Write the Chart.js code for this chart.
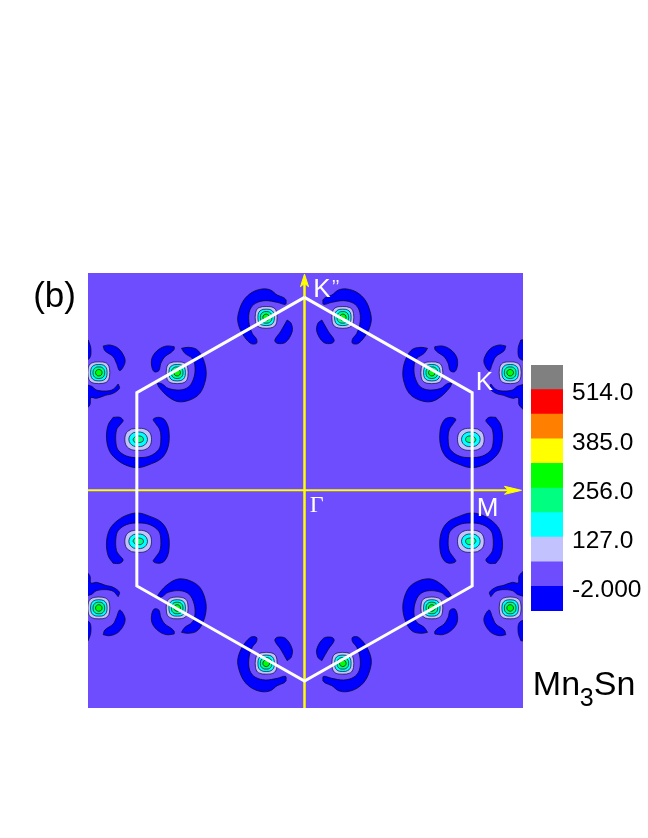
<!DOCTYPE html>
<html>
<head>
<meta charset="utf-8">
<style>
html,body{margin:0;padding:0;background:#fff;width:648px;height:838px;overflow:hidden}
canvas{position:absolute;display:block}
#map{left:0;top:0}
#bar{left:531px;top:355px}
</style>
<script src="https://cdn.jsdelivr.net/npm/chart.js@4"></script>
</head>
<body>
<canvas id="map" width="648" height="838"></canvas>
<canvas id="bar" width="117" height="266"></canvas>
<script>
// ---- colour-scale data ----
const levelEdges = [-66.5,-2,62.5,127,191.5,256,320.5,385,449.5,514,578.5];
const levelColours = ['#0000ff','#6e4dff','#c2c2ff','#00ffff','#00ff80','#00ff00','#ffff00','#ff8000','#ff0000','#808080'];
const tickValues = [-2,127,256,385,514];
const tickLabels = ['-2.000','127.0','256.0','385.0','514.0'];

// ---- map data: k-plane units, origin at Gamma, upper-left quadrant; others are mirror images ----
const siteA = [-115,519];
const siteB = [-382,353];
const siteC = [-617,353];
const siteD = [-499,153];

const blueA1 = [[60,52],[53,59],[33,67],[13,82],[-12,85],[-42,75],[-67,52],[-82,17],[-85,-13],[-72,-48],[-47,-78],[-29,-78],[-29,-65],[-42,-48],[-52,-13],[-49,22],[-32,42],[-2,50],[33,45],[58,39]];
const blueA2 = [[63,-8],[75,-18],[78,-43],[58,-75],[33,-78],[26,-68],[43,-43]];
const blueB1 = [[13,73],[33,76],[58,70],[75,48],[86,13],[85,-22],[68,-62],[38,-82],[3,-87],[-27,-72],[-52,-47],[-59,-32],[-45,-34],[-27,-47],[8,-52],[35,-42],[51,-12],[53,23],[45,43],[23,58]];
const blueB2 = [[-9,78],[-32,80],[-55,70],[-74,48],[-77,23],[-69,3],[-55,6],[-49,28],[-37,48],[-19,60],[-9,70]];
const blueC1 = [[13,80],[33,83],[58,73],[76,48],[78,28],[63,6],[53,28],[43,48],[18,66]];
const blueC2 = [[58,-34],[62,-47],[43,-62],[20,-68],[-7,-77],[-24,-75],[-27,-97],[-47,-112],[-57,-37],[-24,-40],[-7,-52],[23,-55],[43,-50]];
const blueC3 = [[-32,98],[-24,73],[-28,43],[-52,38],[-52,98]];
const blueD1 = [[-75,66],[-55,66],[-45,56],[-55,43],[-65,28],[-67,-7],[-60,-32],[-35,-50],[0,-55],[35,-50],[62,-30],[68,-2],[65,28],[52,48],[45,60],[62,66],[80,58],[92,28],[90,-22],[70,-57],[30,-77],[0,-85],[-30,-80],[-60,-64],[-85,-37],[-95,3],[-90,43]];

const ringLavender = [[-12,32],[12,32],[26,26],[32,12],[32,-12],[26,-26],[12,-32],[-12,-32],[-26,-26],[-32,-12],[-32,12],[-26,26]];
const ringCyan = [[-9,24],[9,24],[19,19],[24,9],[24,-9],[19,-19],[9,-24],[-9,-24],[-19,-19],[-24,-9],[-24,9],[-19,19]];
const ringSpring = [[-6,17],[6,17],[13,13],[17,6],[17,-6],[13,-13],[6,-17],[-6,-17],[-13,-13],[-17,-6],[-17,6],[-13,13]];
const ringGreen = [[0,10],[7,7],[10,0],[7,-7],[0,-10],[-7,-7],[-10,0],[-7,7]];
const ellipseLavender = [[-20,31],[0,33],[20,31],[35,20],[40,0],[35,-20],[20,-31],[0,-33],[-20,-31],[-35,-20],[-40,0],[-35,20]];
const ellipseCyan = [[-14,20],[0,22],[14,20],[24,12],[28,0],[24,-12],[14,-20],[0,-22],[-14,-20],[-24,-12],[-28,0],[-24,12]];
const ellipseSpring = [[-8,9],[6,10],[15,4],[14,-6],[2,-10],[-10,-9],[-15,0]];

const hexagon = [[0,579],[503,293],[503,-287],[0,-572],[-503,-287],[-503,293],[0,579]];
const axisX = [[-650,0],[640,0]];
const axisY = [[0,-653],[0,635]];
const arrowX = [[651,0],[600,12],[612,0],[600,-12]];
const arrowY = [[0,649],[12,611],[0,621],[-12,611]];

const annotations = [
  {text:'(b)', x:-814, y:550, font:'35px "Liberation Sans"', color:'#000'},
  {text:'K', x:26, y:580, font:'26px "Liberation Sans"', color:'#fff'},
  {text:'’’', x:82, y:592, font:'18px "Liberation Sans"', color:'#fff'},
  {text:'K', x:514, y:301, font:'26px "Liberation Sans"', color:'#fff'},
  {text:'M', x:517, y:-77, font:'26px "Liberation Sans"', color:'#fff'},
  {text:'Γ', x:16, y:-65, font:'24px "Liberation Serif"', color:'#fff'},
  {text:'Mn', x:685, y:-614, font:'34px "Liberation Sans"', color:'#000'},
  {text:'3', x:826, y:-647, font:'25px "Liberation Sans"', color:'#000'},
  {text:'Sn', x:868, y:-614, font:'34px "Liberation Sans"', color:'#000'}
];

const quadrants = [[1,1],[-1,1],[1,-1],[-1,-1]];
const siteContours = [
  {site:siteA, blue:[blueA1,blueA2], rings:[[ringLavender,2],[ringCyan,3],[ringSpring,4],[ringGreen,5]]},
  {site:siteB, blue:[blueB1,blueB2], rings:[[ringLavender,2],[ringCyan,3],[ringSpring,4],[ringGreen,5]]},
  {site:siteC, blue:[blueC1,blueC2,blueC3], rings:[[ringLavender,2],[ringCyan,3],[ringSpring,4],[ringGreen,5]]},
  {site:siteD, blue:[blueD1], rings:[[ellipseLavender,2],[ellipseCyan,3],[ellipseSpring,4]]}
];

// ---- build datasets ----
function polygon(points, site, q, colour, width){
  const pts = points.map(p => ({x:(site[0]+p[0])*q[0], y:(site[1]+p[1])*q[1]}));
  pts.push(pts[0]);
  return {data:pts, showLine:true, closedShape:true, backgroundColor:colour, borderColor:'#0a0a30', borderWidth:width,
          tension:0.35, capBezierPoints:false, pointRadius:0, pointHoverRadius:0};
}
const layers = [];
quadrants.forEach(q => siteContours.forEach(s => {
  s.blue.forEach(b => layers.push(polygon(b, s.site, q, levelColours[0], 0.8)));
  s.rings.forEach(r => layers.push(polygon(r[0], s.site, q, levelColours[r[1]], 0.7)));
}));
function line(points, colour, width){
  return {data:points.map(p => ({x:p[0],y:p[1]})), showLine:true, borderColor:colour, borderWidth:width,
          pointRadius:0, pointHoverRadius:0, tension:0, clip:false, borderJoinStyle:'miter'};
}
function solid(points, colour){
  const pts = points.map(p => ({x:p[0],y:p[1]})); pts.push(pts[0]);
  return {data:pts, showLine:true, closedShape:true, backgroundColor:colour, borderColor:colour, borderWidth:1,
          pointRadius:0, pointHoverRadius:0, tension:0, clip:false};
}
layers.push(line(axisX,'#ffff00',2));
layers.push(line(axisY,'#ffff00',2.5));
layers.push(solid(arrowX,'#ffff00'));
layers.push(solid(arrowY,'#ffff00'));
layers.push(line(hexagon,'#ffffff',3));

const closedFill = {
  id:'closedFill',
  beforeDatasetDraw(chart,args){
    const ds = chart.data.datasets[args.index];
    if(!ds.closedShape) return;
    const ctx = chart.ctx, a = chart.chartArea, el = args.meta.dataset;
    ctx.save();
    ctx.beginPath();
    ctx.rect(a.left,a.top-2,a.right-a.left,a.bottom-a.top+2);
    ctx.clip();
    el.updateControlPoints(a,'x');
    ctx.beginPath();
    el.path(ctx);
    ctx.closePath();
    ctx.fillStyle = ds.backgroundColor;
    ctx.fill();
    ctx.restore();
  }
};
const plotBackground = {
  id:'plotBackground',
  beforeDatasetsDraw(chart){
    const a = chart.chartArea, ctx = chart.ctx;
    ctx.save();
    ctx.fillStyle = levelColours[1];
    ctx.fillRect(a.left,a.top,a.right-a.left,a.bottom-a.top);
    ctx.restore();
  }
};
const textLabels = {
  id:'textLabels',
  afterDraw(chart){
    const ctx = chart.ctx, sx = chart.scales.x, sy = chart.scales.y;
    ctx.save();
    ctx.textAlign='left'; ctx.textBaseline='alphabetic';
    annotations.forEach(t => {
      ctx.font=t.font; ctx.fillStyle=t.color;
      ctx.fillText(t.text, sx.getPixelForValue(t.x), sy.getPixelForValue(t.y));
    });
    ctx.restore();
  }
};

new Chart(document.getElementById('map'),{
  type:'scatter',
  data:{datasets:layers.reverse()},
  plugins:[plotBackground,closedFill,textLabels],
  options:{
    responsive:false, animation:false, events:[],
    layout:{padding:{left:88,top:273,right:125,bottom:130}},
    plugins:{legend:{display:false},tooltip:{enabled:false},title:{display:false}},
    scales:{
      x:{type:'linear',display:false,min:-649.5,max:655.5},
      y:{type:'linear',display:false,min:-653,max:652}
    }
  }
});

new Chart(document.getElementById('bar'),{
  type:'bar',
  data:{
    labels:['scale'],
    datasets:levelColours.map((c,i)=>({data:[[levelEdges[i],levelEdges[i+1]]],backgroundColor:c,borderWidth:0,barPercentage:1,categoryPercentage:1,grouped:false}))
  },
  options:{
    responsive:false, animation:false, events:[],
    layout:{padding:{top:10,bottom:10,left:0,right:0}},
    plugins:{legend:{display:false},tooltip:{enabled:false}},
    scales:{
      x:{display:false,grid:{display:false}},
      y:{
        position:'right', min:levelEdges[0], max:levelEdges[levelEdges.length-1],
        afterBuildTicks(scale){ scale.ticks = tickValues.map(v=>({value:v})); },
        afterFit(scale){ scale.width = 85; scale.paddingTop = 0; scale.paddingBottom = 0; },
        grid:{display:false,drawTicks:false}, border:{display:false},
        ticks:{
          autoSkip:false, padding:9, labelOffset:4, color:'#000',
          font:{family:'"Liberation Sans"',size:24.5},
          callback(v){ return tickLabels[tickValues.indexOf(v)]; }
        }
      }
    }
  }
});
</script>
</body>
</html>
